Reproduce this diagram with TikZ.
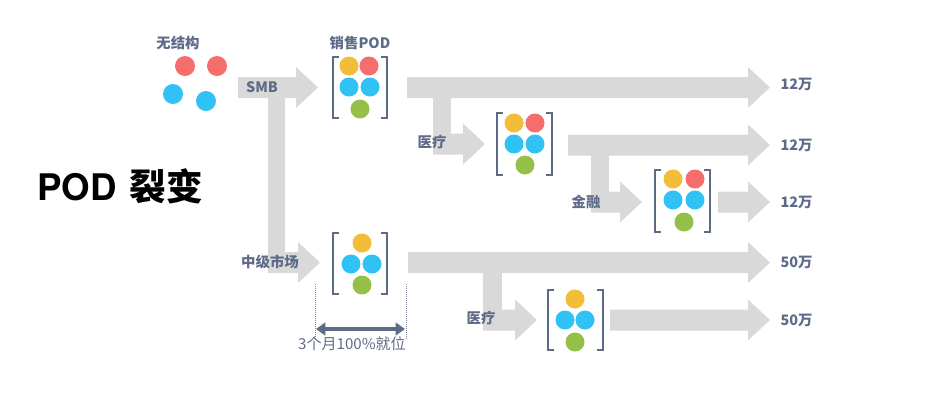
\documentclass[tikz,border=0pt]{standalone}
\usepackage{fontspec}
\setmainfont{Noto Sans CJK SC}
\newfontfamily\heros{TeX Gyre Heros}
\usepackage{tikz}
\usetikzlibrary{arrows.meta}
\definecolor{pfeilgrau}{HTML}{D9D9D9}
\definecolor{schiefer}{HTML}{5E6B87}
\definecolor{gelb}{HTML}{F2BE3A}
\definecolor{rot}{HTML}{F56E6C}
\definecolor{blau}{HTML}{30C2F4}
\definecolor{gruen}{HTML}{94C04A}
% block arrow: start x, tip x, centre y
\newcommand{\blockpfeil}[3]{
  \fill[pfeilgrau] (#1,#3-10.5) -- (#2-22,#3-10.5) -- (#2-22,#3-20.5) -- (#2,#3)
    -- (#2-22,#3+20.5) -- (#2-22,#3+10.5) -- (#1,#3+10.5) -- cycle;}
% bracket pair: left x, top y, right x, bottom y
\newcommand{\podklammer}[4]{
  \draw[klammer] (#1+6,#2) -- (#1,#2) -- (#1,#4) -- (#1+6,#4);
  \draw[klammer] (#3-6,#2) -- (#3,#2) -- (#3,#4) -- (#3-6,#4);}
\tikzset{
  klammer/.style={draw=schiefer, line width=1.2pt},
  marke/.style={font=\bfseries\fontsize{10.8}{12}\selectfont, text=schiefer, inner sep=1pt},
  punkt/.style={radius=9.5},
}

\begin{document}
\begin{tikzpicture}[x=0.75pt, y=-0.75pt]
  \useasboundingbox (0,0) rectangle (933,401);
  % arrows
  \blockpfeil{238}{318}{87.5}
  \fill[pfeilgrau] (268,90) rectangle (285,262);
  \blockpfeil{268}{320}{262.5}
  \blockpfeil{407}{770}{87.5}
  \fill[pfeilgrau] (433,90) rectangle (451,144);
  \blockpfeil{433}{485}{144}
  \blockpfeil{568}{770}{145}
  \fill[pfeilgrau] (591,148) rectangle (609,202);
  \blockpfeil{591}{642}{202}
  \blockpfeil{718}{770}{202}
  \blockpfeil{408}{770}{262.5}
  \fill[pfeilgrau] (483,265) rectangle (502,320);
  \blockpfeil{483}{537}{320}
  \blockpfeil{610}{770}{320}

  % unstructured
  \fill[rot] (185,66) circle[radius=10];
  \fill[rot] (217,66) circle[radius=10];
  \fill[blau] (173,94) circle[radius=10];
  \fill[blau] (206,101) circle[radius=10];

  % sales pod
  \podklammer{333}{57}{387}{118}
  \fill[gelb] (349,66) circle[punkt];
  \fill[rot] (369,66) circle[punkt];
  \fill[blau] (349,87) circle[punkt];
  \fill[blau] (370,87) circle[punkt];
  \fill[gruen] (360,109) circle[punkt];

  % medical pod
  \podklammer{497}{113}{552}{175}
  \fill[gelb] (514,123) circle[punkt];
  \fill[rot] (535,123) circle[punkt];
  \fill[blau] (514,144) circle[punkt];
  \fill[blau] (535,144) circle[punkt];
  \fill[gruen] (525,165) circle[punkt];

  % finance pod
  \podklammer{655}{170}{710}{232}
  \fill[gelb] (673,179) circle[punkt];
  \fill[rot] (695,179) circle[punkt];
  \fill[blau] (673,200) circle[punkt];
  \fill[blau] (695,200) circle[punkt];
  \fill[gruen] (684,222) circle[punkt];

  % mid-market pod
  \podklammer{333}{233}{387}{294}
  \fill[gelb] (362,243) circle[punkt];
  \fill[blau] (351,264) circle[punkt];
  \fill[blau] (372,264) circle[punkt];
  \fill[gruen] (362,285) circle[punkt];

  % mid-market medical pod
  \podklammer{548}{290}{603}{350}
  \fill[gelb] (575,299) circle[punkt];
  \fill[blau] (565,320) circle[punkt];
  \fill[blau] (585,320) circle[punkt];
  \fill[gruen] (575,342) circle[punkt];

  % labels
  \node[marke] (wujiegou) at (178,43) {无结构};
  \node[marke] (xiaoshou) at (360,43) {销售POD};
  \node[marke] (smb) at (262,87) {SMB};
  \node[marke] (yiliao) at (432,142) {医疗};
  \node[marke] (jinrong) at (586,202) {金融};
  \node[marke] (zhongji) at (270,262) {中级市场};
  \node[marke] (yiliaob) at (481,318) {医疗};
  \node[marke, anchor=west] (wanA) at (779,84) {12万};
  \node[marke, anchor=west] (wanB) at (779,145) {12万};
  \node[marke, anchor=west] (wanC) at (779,202) {12万};
  \node[marke, anchor=west] (wanD) at (779,262) {50万};
  \node[marke, anchor=west] (wanE) at (779,320) {50万};

  \node[anchor=west, font=\bfseries\fontsize{27.5}{30}\selectfont, inner sep=0pt] (titel) at (37,186)
    {{\heros POD}\hspace{0.12em} 裂变};

  % three months
  \draw[schiefer!80, densely dotted, line width=0.5pt] (315,284) -- (315,340);
  \draw[schiefer!80, densely dotted, line width=0.5pt] (406,284) -- (406,340);
  \coordinate (links) at (316,329);
  \coordinate (rechts) at (405,329);
  \draw[schiefer, line width=2.4pt, {Triangle[length=7pt,width=9.5pt]}-{Triangle[length=7pt,width=9.5pt]}] (links) -- (rechts);
  \node[font=\fontsize{11.3}{13}\selectfont, text=schiefer, inner sep=1pt] (dauer) at (352,344) {3个月100\%就位};
\end{tikzpicture}
\end{document}
